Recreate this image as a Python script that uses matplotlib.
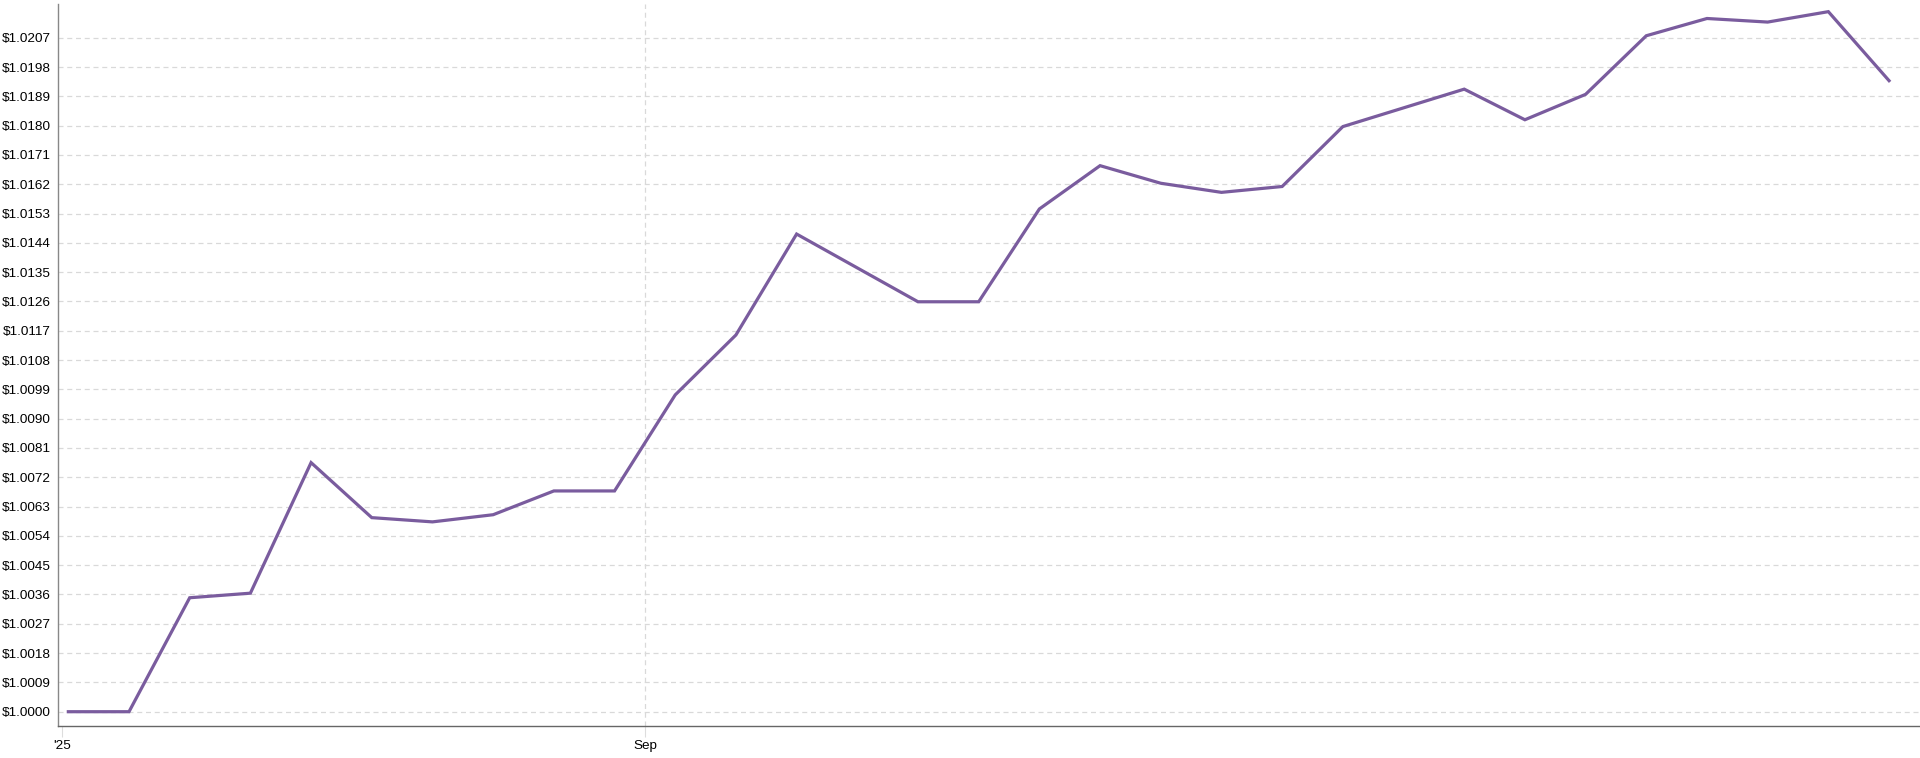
import matplotlib
matplotlib.use("Agg")
import matplotlib.pyplot as plt
from matplotlib.ticker import FixedLocator

plt.rcParams['font.family'] = ['Liberation Sans', 'DejaVu Sans']

# week index (gaps where no observation was drawn)
week_idx = [0, 1, 2, 3, 4, 5, 6, 7, 8, 9, 10, 11, 12,
            14, 15, 16, 17, 18, 19, 20, 21,
            23, 24, 25, 26, 27, 28, 29, 30]
values = [1.0000, 1.0000, 1.00350, 1.00364, 1.00765, 1.00596, 1.00583, 1.00605,
          1.00678, 1.00678, 1.00973, 1.01157, 1.01467,
          1.01259, 1.01259, 1.01544, 1.01677, 1.01623, 1.01595, 1.01613, 1.01797,
          1.01912, 1.01818, 1.01896, 1.02076, 1.02129, 1.02118, 1.02150, 1.01938]

y_ticks = [round(1.0 + 0.0009 * k, 4) for k in range(24)]
x_tick_pos = [-0.1, 9.51]
x_tick_labels = ["'25", "Sep"]

fig = plt.figure(figsize=(19.2, 7.58), dpi=100)
ax = fig.add_axes([57.7 / 1920, 32 / 758, 1 - 57.7 / 1920, (726 - 4) / 758])

ax.plot(week_idx, values, color='#7a5c9e', lw=2.3, solid_joinstyle='miter', zorder=3)

ax.set_xlim(-0.175, 30.51)
ax.set_ylim(0.999561, 1.021735)

ax.yaxis.set_major_locator(FixedLocator(y_ticks))
ax.set_yticklabels(['$%.4f' % v for v in y_ticks])
ax.set_xticks(x_tick_pos)
ax.set_xticklabels(x_tick_labels)

ax.tick_params(axis='y', length=0, pad=5, labelsize=9.7, labelcolor='#000000')
ax.tick_params(axis='x', length=8, pad=2, labelsize=9.7, labelcolor='#000000',
               color='#dddddd')

ax.grid(axis='y', color='#d9d9d9', linestyle=(0, (4, 3)), linewidth=0.9)
for xv in [x_tick_pos[1]]:
    ax.axvline(xv, color='#d9d9d9', linestyle=(0, (4, 3)), linewidth=0.9, zorder=1)

for s in ['top', 'right']:
    ax.spines[s].set_visible(False)
ax.spines['left'].set_color('#888888')
ax.spines['bottom'].set_color('#666666')
ax.spines['left'].set_linewidth(1.0)
ax.spines['bottom'].set_linewidth(1.0)

fig.savefig('out.png', dpi=100)
